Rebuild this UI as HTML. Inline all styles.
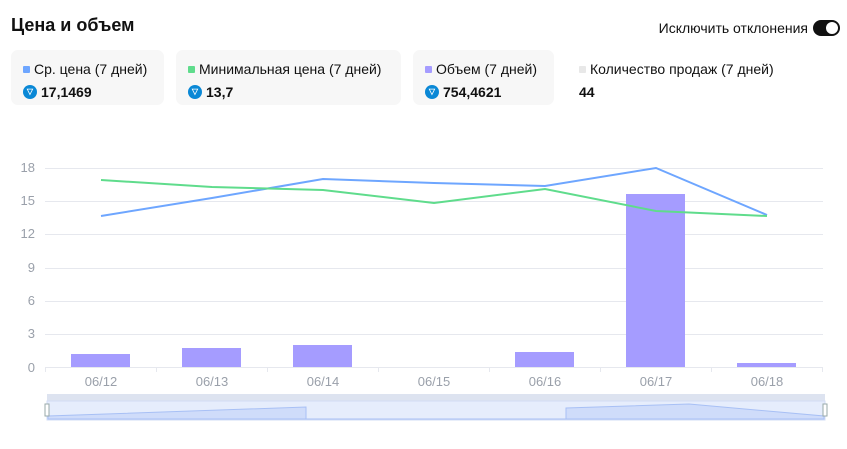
<!DOCTYPE html><html><head><style>
body{margin:0;width:847px;height:449px;background:#fff;font-family:"Liberation Sans",sans-serif;overflow:hidden;position:relative}
.t{position:absolute;left:11px;top:15px;font-size:18px;font-weight:bold;color:#111}
.tg{position:absolute;right:7px;top:20px;font-size:14px;color:#111;display:flex;align-items:center;gap:5px}
.sw{width:27px;height:16px;border-radius:8px;background:#111;position:relative}
.sw:after{content:"";position:absolute;right:2px;top:2px;width:12px;height:12px;border-radius:6px;background:#fff}
.c{position:absolute;top:50px;height:55px;background:#f7f7f7;border-radius:7px}
.l{position:absolute;left:12px;top:11px;font-size:14px;color:#111;white-space:nowrap}
.l i{display:inline-block;width:7px;height:7px;border-radius:1px;margin-right:4px;vertical-align:1px}
.v{position:absolute;left:12px;top:34px;font-size:14px;font-weight:bold;color:#111;display:flex;align-items:center;gap:4px}
.v b{display:inline-block;width:14px;height:14px;border-radius:7px;background:#0a88d6;color:#fff;font-size:8px;text-align:center;line-height:14px}
</style></head><body>
<div class="t">Цена и объем</div>
<div class="tg">Исключить отклонения<div class="sw"></div></div>
<div class="c" style="left:11px;width:153px"><div class="l"><i style="background:#6ea6ff"></i>Ср. цена (7 дней)</div><div class="v"><b>▽</b>17,1469</div></div>
<div class="c" style="left:176px;width:225px"><div class="l"><i style="background:#5fdc8c"></i>Минимальная цена (7 дней)</div><div class="v"><b>▽</b>13,7</div></div>
<div class="c" style="left:413px;width:141px"><div class="l"><i style="background:#a59cff"></i>Объем (7 дней)</div><div class="v"><b>▽</b>754,4621</div></div>
<div class="c" style="left:567px;width:230px;background:none"><div class="l"><i style="background:#e8e8e8"></i>Количество продаж (7 дней)</div><div class="v">44</div></div>
<svg width="847" height="449" style="position:absolute;left:0;top:0" font-family="Liberation Sans" font-size="13" fill="#9aa0aa">
<g stroke="#e6e8ee" stroke-width="1">
<line x1="45" x2="823" y1="168.5" y2="168.5"/><line x1="45" x2="823" y1="201.5" y2="201.5"/><line x1="45" x2="823" y1="234.5" y2="234.5"/><line x1="45" x2="823" y1="268.5" y2="268.5"/><line x1="45" x2="823" y1="301.5" y2="301.5"/><line x1="45" x2="823" y1="334.5" y2="334.5"/><line x1="45" x2="823" y1="367.5" y2="367.5"/>
<line x1="45.5" x2="45.5" y1="367" y2="372"/><line x1="156.5" x2="156.5" y1="367" y2="372"/><line x1="267.5" x2="267.5" y1="367" y2="372"/><line x1="378.5" x2="378.5" y1="367" y2="372"/><line x1="489.5" x2="489.5" y1="367" y2="372"/><line x1="600.5" x2="600.5" y1="367" y2="372"/><line x1="711.5" x2="711.5" y1="367" y2="372"/><line x1="822.5" x2="822.5" y1="367" y2="372"/>
</g>
<g text-anchor="end"><text x="35" y="172">18</text><text x="35" y="205">15</text><text x="35" y="238">12</text><text x="35" y="272">9</text><text x="35" y="305">6</text><text x="35" y="338">3</text><text x="35" y="372">0</text></g>
<g text-anchor="middle"><text x="101" y="386">06/12</text><text x="212" y="386">06/13</text><text x="323" y="386">06/14</text><text x="434" y="386">06/15</text><text x="545" y="386">06/16</text><text x="656" y="386">06/17</text><text x="767" y="386">06/18</text></g>
<g fill="#a59cff"><rect x="71" y="354" width="59" height="13"/><rect x="182" y="348" width="59" height="19"/><rect x="293" y="345" width="59" height="22"/><rect x="515" y="352" width="59" height="15"/><rect x="626" y="194" width="59" height="173"/><rect x="737" y="363" width="59" height="4"/></g>
<polyline fill="none" stroke="#6ea6ff" stroke-width="2" points="101,216 212,198 323,179 434,183 545,186 656,168 767,215"/>
<polyline fill="none" stroke="#5fdc8c" stroke-width="2" points="101,180 212,187 323,190 434,203 545,189 656,211 767,216"/>
<rect x="47" y="394" width="778" height="8" fill="#dde3f0"/>
<rect x="47" y="401" width="778" height="19" fill="#e6edfc" stroke="#d2dcf5"/>
<polygon fill="#cfdcfa" stroke="#a8c0f5" points="48,419 48,416 306,407 306,419 566,419 566,408 689,404 824,416 824,419"/>
<rect x="45" y="404" width="4" height="12" fill="#fff" stroke="#9aa"/><rect x="823" y="404" width="4" height="12" fill="#fff" stroke="#9aa"/>
</svg>
</body></html>
